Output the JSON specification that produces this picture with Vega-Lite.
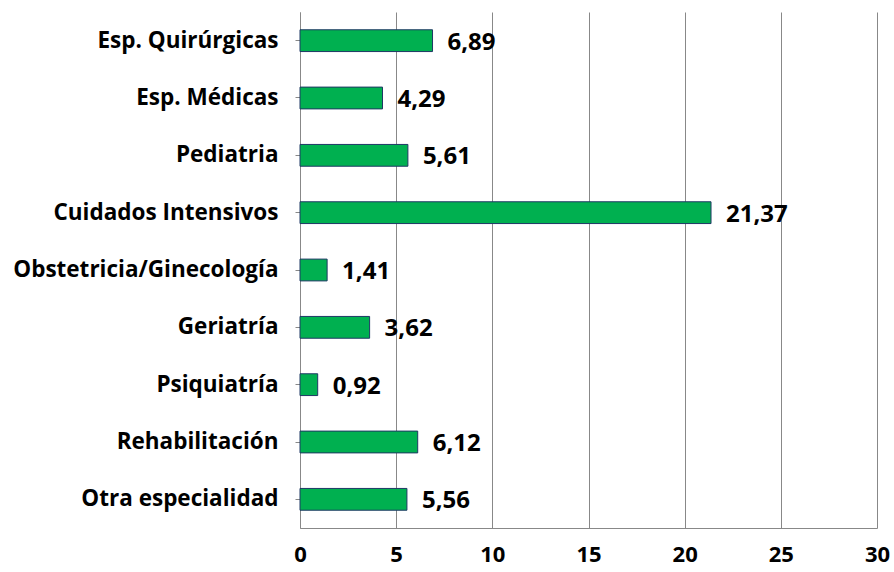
{
  "$schema": "https://vega.github.io/schema/vega-lite/v6.json",
  "autosize": {"type": "none"},
  "width": 577,
  "height": 516,
  "padding": {"left": 300, "top": 12, "right": 17, "bottom": 44},
  "background": "white",
  "config": {"view": {"stroke": null}, "font": "Open Sans"},
  "data": {"values": [
    {"cat": "Esp. Quirúrgicas", "v": 6.89, "lbl": "6,89"},
    {"cat": "Esp. Médicas", "v": 4.29, "lbl": "4,29"},
    {"cat": "Pediatria", "v": 5.61, "lbl": "5,61"},
    {"cat": "Cuidados Intensivos", "v": 21.37, "lbl": "21,37"},
    {"cat": "Obstetricia/Ginecología", "v": 1.41, "lbl": "1,41"},
    {"cat": "Geriatría", "v": 3.62, "lbl": "3,62"},
    {"cat": "Psiquiatría", "v": 0.92, "lbl": "0,92"},
    {"cat": "Rehabilitación", "v": 6.12, "lbl": "6,12"},
    {"cat": "Otra especialidad", "v": 5.56, "lbl": "5,56"}
  ]},
  "encoding": {
    "y": {"field": "cat", "type": "nominal", "sort": null,
      "scale": {"paddingInner": 0.62, "paddingOuter": 0.31},
      "axis": {"title": null, "labelFont": "Open Sans", "labelFontSize": 22.5, "labelFontWeight": "bold", "labelColor": "black",
        "domainColor": "#888888", "tickColor": "#888888", "tickSize": 5, "labelPadding": 17, "grid": false, "labelLimit": 400}},
    "x": {"field": "v", "type": "quantitative",
      "scale": {"domain": [0, 30], "nice": false},
      "axis": {"title": null, "values": [0, 5, 10, 15, 20, 25, 30], "labelFont": "Open Sans", "labelFontSize": 22, "labelFontWeight": "bold", "labelColor": "black",
        "grid": true, "gridColor": "#888888", "gridWidth": 1, "domainColor": "#888888", "ticks": false, "labelPadding": 16, "labelFlush": false}}
  },
  "layer": [
    {"mark": {"type": "bar", "color": "#00B050", "stroke": "#1F3864", "strokeWidth": 1}},
    {"mark": {"type": "text", "align": "left", "dx": 15, "dy": 2, "fontSize": 24, "fontWeight": "bold", "font": "Open Sans", "color": "black"},
     "encoding": {"text": {"field": "lbl"}}}
  ]
}
